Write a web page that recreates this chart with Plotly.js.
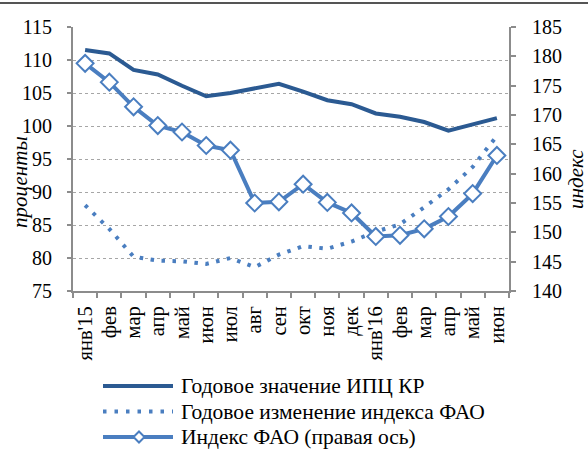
<!DOCTYPE html>
<html>
<head>
<meta charset="utf-8">
<script src="https://cdn.plot.ly/plotly-3.0.1.min.js"></script>
<style>html,body{margin:0;padding:0;background:#fff;}#chart{width:588px;height:450px;}</style>
</head>
<body>
<div id="chart"></div>
<script>
// Month labels (x axis)
const monthLabels = ["янв'15","фев","мар","апр","май","июн","июл","авг","сен","окт","ноя","дек","янв'16","фев","мар","апр","май","июн"];
// Годовое значение ИПЦ КР (left axis, %)
const cpiKR = [111.5,111.0,108.5,107.8,106.1,104.5,105.0,105.7,106.4,105.2,103.9,103.3,101.9,101.4,100.6,99.3,100.2,101.2];
// Годовое изменение индекса ФАО (left axis, %)
const faoChange = [88.0,84.4,80.2,79.6,79.5,79.1,80.0,78.6,80.5,81.8,81.4,82.5,84.0,85.1,87.7,90.4,93.8,98.5];
// Индекс ФАО (right axis)
const faoIndex = [178.8,175.6,171.4,168.2,167.1,164.8,164.0,155.0,155.2,158.2,155.1,153.3,149.3,149.5,150.6,152.7,156.6,163.1];
// Series names
const seriesNames = ["Годовое значение ИПЦ КР","Годовое изменение индекса ФАО","Индекс ФАО (правая ось)"];
const leftTitle = "проценты";
const rightTitle = "индекс";

const xIdx = monthLabels.map((_, i) => i);
const DARK = '#2B5A92', LIGHT = '#4A7EC0', AX = '#8c8c8c';
const FONT = 'Liberation Serif';

const traces = [
  {x: xIdx, y: cpiKR, name: seriesNames[0], type: 'scatter', mode: 'lines',
   line: {color: DARK, width: 4}, yaxis: 'y'},
  {x: xIdx, y: faoChange, name: seriesNames[1], type: 'scatter', mode: 'lines',
   line: {color: LIGHT, width: 4, dash: '3.5px,7.5px'}, yaxis: 'y'},
  {x: xIdx, y: faoIndex, name: seriesNames[2], type: 'scatter', mode: 'lines+markers',
   line: {color: LIGHT, width: 4},
   marker: {symbol: 'diamond', size: 13, color: '#ffffff', line: {color: LIGHT, width: 2}},
   yaxis: 'y2'}
];

// plot area geometry in pixels (for legend placement in paper coords)
const L = 73, R = 79, T = 27, B = 159, W = 588 - L - R, H = 450 - T - B;
const px = p => (p - L) / W;
const py = p => (450 - B - p) / H;

const legendRows = [386, 411.5, 437];
const shapes = [
  // frame line at the top
  {type: 'line', xref: 'paper', yref: 'paper', x0: px(0), x1: px(588), y0: py(3), y1: py(3),
   line: {color: '#555555', width: 2}},
  // legend samples
  {type: 'line', xref: 'paper', yref: 'paper', x0: px(103), x1: px(173), y0: py(legendRows[0]), y1: py(legendRows[0]),
   line: {color: DARK, width: 4}},
  {type: 'line', xref: 'paper', yref: 'paper', x0: px(103), x1: px(173), y0: py(legendRows[1]), y1: py(legendRows[1]),
   line: {color: LIGHT, width: 4, dash: '3.5px,8px'}},
  {type: 'line', xref: 'paper', yref: 'paper', x0: px(103), x1: px(173), y0: py(legendRows[2]), y1: py(legendRows[2]),
   line: {color: LIGHT, width: 4}},
  {type: 'path', xref: 'paper', yref: 'paper',
   path: 'M ' + px(139) + ' ' + py(legendRows[2] - 5.5) + ' L ' + px(144.5) + ' ' + py(legendRows[2]) +
         ' L ' + px(139) + ' ' + py(legendRows[2] + 5.5) + ' L ' + px(133.5) + ' ' + py(legendRows[2]) + ' Z',
   fillcolor: '#ffffff', line: {color: LIGHT, width: 2}}
];

const annotations = seriesNames.map((n, i) => ({
  text: n, xref: 'paper', yref: 'paper', x: px(179), y: py(legendRows[i]),
  xanchor: 'left', yanchor: 'middle', showarrow: false,
  font: {family: FONT, size: 21.5, color: '#000'}
}));
annotations.push({text: leftTitle, xref: 'paper', yref: 'paper', x: px(20), y: py(182),
  xanchor: 'center', yanchor: 'middle', textangle: -90, showarrow: false,
  font: {family: FONT, size: 21, color: '#000', style: 'italic'}});
annotations.push({text: rightTitle, xref: 'paper', yref: 'paper', x: px(576), y: py(179),
  xanchor: 'center', yanchor: 'middle', textangle: -90, showarrow: false,
  font: {family: FONT, size: 21, color: '#000', style: 'italic'}});

const layout = {
  width: 588, height: 450,
  margin: {l: L, r: R, t: T, b: B, pad: 0},
  paper_bgcolor: '#fff', plot_bgcolor: '#fff',
  showlegend: false,
  font: {family: FONT, color: '#000'},
  xaxis: {
    range: [-0.5, monthLabels.length - 0.5],
    tickmode: 'array', tickvals: xIdx, ticktext: monthLabels,
    tickangle: -90, ticks: 'outside', ticklen: 5, tickcolor: 'rgba(0,0,0,0)',
    minor: {ticks: 'outside', ticklen: 5, tick0: -0.5, dtick: 1, tickcolor: AX, tickwidth: 2, showgrid: false},
    showline: true, linecolor: AX, linewidth: 2, showgrid: false, zeroline: false,
    tickfont: {family: FONT, size: 20.5, color: '#000'}, fixedrange: true
  },
  yaxis: {
    range: [75, 115], dtick: 5, tick0: 75,
    ticks: 'outside', ticklen: 4, tickcolor: AX, tickwidth: 2,
    showline: true, linecolor: AX, linewidth: 2,
    showgrid: true, gridcolor: '#a6a6a6', gridwidth: 1, griddash: 'dot',
    zeroline: false, ticklabelstandoff: 11,
    tickfont: {family: FONT, size: 20, color: '#000'}
  },
  yaxis2: {
    range: [140, 185], dtick: 5, tick0: 140,
    overlaying: 'y', side: 'right',
    ticks: 'outside', ticklen: 5, tickcolor: AX, tickwidth: 2,
    showline: true, linecolor: AX, linewidth: 2,
    showgrid: false, zeroline: false, ticklabelstandoff: 12,
    tickfont: {family: FONT, size: 20, color: '#000'}
  },
  shapes: shapes,
  annotations: annotations
};

Plotly.newPlot('chart', traces, layout, {displayModeBar: false, staticPlot: true});
</script>
</body>
</html>
